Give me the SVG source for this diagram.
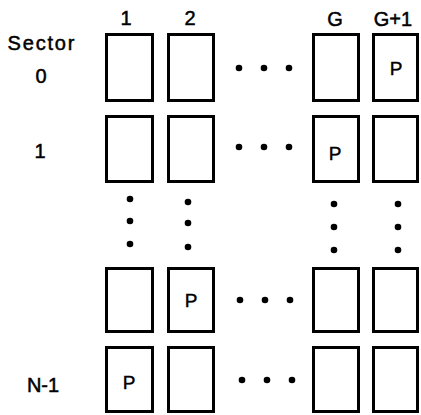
<svg xmlns="http://www.w3.org/2000/svg" width="421" height="415" viewBox="0 0 421 415">
  <style>
    .cell { fill: #fff; stroke: #000; stroke-width: 3; }
    .lbl { font-family: "Liberation Sans", Arial, sans-serif; font-size: 20px; fill: #000; stroke: #000; stroke-width: 0.5; text-anchor: middle; }
    .p { font-family: "Liberation Sans", Arial, sans-serif; font-size: 19px; fill: #000; stroke: #000; stroke-width: 0.4; text-anchor: middle; }
    .dot { fill: #000; }
  </style>
  <rect width="421" height="415" fill="#fff"/>

  <!-- column headers -->
  <g id="headers">
    <text class="lbl" x="126" y="25">1</text>
    <text class="lbl" x="190" y="25">2</text>
    <text class="lbl" x="335" y="26">G</text>
    <text class="lbl" x="393" y="26">G+1</text>
  </g>

  <!-- row labels -->
  <g id="rowlabels">
    <text class="lbl" x="41" y="50" font-size="21" textLength="67" lengthAdjust="spacing">Sector</text>
    <text class="lbl" x="41" y="83">0</text>
    <text class="lbl" x="40" y="158">1</text>
    <text class="lbl" x="43" y="392">N-1</text>
  </g>

  <!-- row 0 -->
  <g id="row0">
    <rect class="cell" x="106.5" y="34.5" width="46" height="66"/>
    <rect class="cell" x="168.5" y="34.5" width="45" height="66"/>
    <rect class="cell" x="313.5" y="34.5" width="45" height="66"/>
    <rect class="cell" x="373.5" y="34.5" width="44" height="66"/>
    <text class="p" x="396" y="75">P</text>
  </g>

  <!-- row 1 -->
  <g id="row1">
    <rect class="cell" x="106.5" y="116.5" width="46" height="65"/>
    <rect class="cell" x="168.5" y="116.5" width="45" height="65"/>
    <rect class="cell" x="313.5" y="116.5" width="45" height="65"/>
    <rect class="cell" x="373.5" y="116.5" width="44" height="65"/>
    <text class="p" x="335" y="160">P</text>
  </g>

  <!-- row N-2 -->
  <g id="rowN2">
    <rect class="cell" x="106.5" y="268.5" width="46" height="63"/>
    <rect class="cell" x="168.5" y="268.5" width="45" height="63"/>
    <rect class="cell" x="313.5" y="268.5" width="45" height="63"/>
    <rect class="cell" x="373.5" y="268.5" width="44" height="63"/>
    <text class="p" x="191" y="307">P</text>
  </g>

  <!-- row N-1 -->
  <g id="rowN1">
    <rect class="cell" x="106.5" y="347.5" width="46" height="64"/>
    <rect class="cell" x="168.5" y="347.5" width="45" height="64"/>
    <rect class="cell" x="313.5" y="347.5" width="45" height="64"/>
    <rect class="cell" x="373.5" y="347.5" width="44" height="64"/>
    <text class="p" x="129" y="389">P</text>
  </g>

  <!-- ellipsis dots -->
  <g id="ellipses">
    <circle class="dot" cx="239" cy="68" r="3.3"/>
    <circle class="dot" cx="264" cy="68" r="3.3"/>
    <circle class="dot" cx="289" cy="68" r="3.3"/>

    <circle class="dot" cx="239" cy="147" r="3.3"/>
    <circle class="dot" cx="264" cy="147" r="3.3"/>
    <circle class="dot" cx="289" cy="147" r="3.3"/>

    <circle class="dot" cx="240" cy="300" r="3.3"/>
    <circle class="dot" cx="265" cy="300" r="3.3"/>
    <circle class="dot" cx="290" cy="300" r="3.3"/>

    <circle class="dot" cx="242" cy="380" r="3.3"/>
    <circle class="dot" cx="267" cy="380" r="3.3"/>
    <circle class="dot" cx="292" cy="380" r="3.3"/>

    <circle class="dot" cx="130" cy="199" r="3.3"/>
    <circle class="dot" cx="130" cy="221" r="3.3"/>
    <circle class="dot" cx="130" cy="244" r="3.3"/>

    <circle class="dot" cx="188" cy="202" r="3.3"/>
    <circle class="dot" cx="188" cy="223" r="3.3"/>
    <circle class="dot" cx="188" cy="247" r="3.3"/>

    <circle class="dot" cx="334" cy="204" r="3.3"/>
    <circle class="dot" cx="334" cy="227" r="3.3"/>
    <circle class="dot" cx="334" cy="250" r="3.3"/>

    <circle class="dot" cx="398" cy="204" r="3.3"/>
    <circle class="dot" cx="398" cy="227" r="3.3"/>
    <circle class="dot" cx="398" cy="250" r="3.3"/>
  </g>
</svg>
